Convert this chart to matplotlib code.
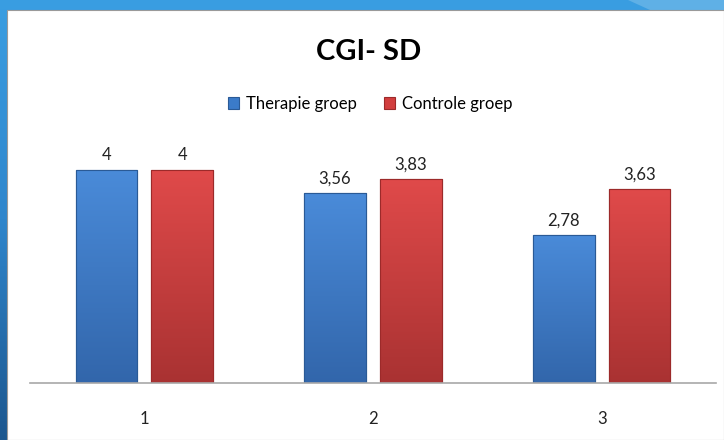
import matplotlib.pyplot as plt
import numpy as np
from matplotlib.patches import Rectangle, Polygon
from matplotlib.colors import LinearSegmentedColormap

categories = ['1', '2', '3']
therapie = [4, 3.56, 2.78]
controle = [4, 3.83, 3.63]
series_names = ['Therapie groep', 'Controle groep']

plt.rcParams['font.family'] = ['Lato', 'DejaVu Sans']

fig = plt.figure(figsize=(7.24, 4.40), dpi=100)

# slide background: blue gradient with a white panel on top
bg = fig.add_axes([0, 0, 1, 1], zorder=-10)
grad = np.linspace(0, 1, 256).reshape(-1, 1)
bg.imshow(grad, aspect='auto', cmap=LinearSegmentedColormap.from_list(
    'slide', ['#3a9ee2', '#2f86cc', '#1c578f']), extent=[0, 1, 0, 1])
bg.set_xlim(0, 1)
bg.set_ylim(0, 1)
bg.axis('off')
bg.add_patch(Polygon([(628 / 724, 1), (1, 1), (1, 430 / 440), (650 / 724, 430 / 440)],
                     closed=True, facecolor='#5fb0e6', edgecolor='none'))
bg.add_patch(Rectangle((7 / 724, 0), 1 - 7 / 724, (440 - 10) / 440,
                       facecolor='white', edgecolor='#9a9a9a', linewidth=0.8))

ax = fig.add_axes([30 / 724, 57 / 440, 686 / 724, 240 / 440])
x = np.arange(len(categories))
w = 0.27
off = 0.166
b1 = ax.bar(x - off, therapie, w, color='#3b7bc9', edgecolor='#2a5a96', linewidth=0.8,
            label=series_names[0])
b2 = ax.bar(x + off, controle, w, color='#d23e3e', edgecolor='#9c2a2a', linewidth=0.8,
            label=series_names[1])

# vertical shading on bars, lighter at the top
shades = [LinearSegmentedColormap.from_list('b', ['#3266ab', '#4a8bd9']),
          LinearSegmentedColormap.from_list('r', ['#a93232', '#e04a4a'])]
for bars, cm in [(b1, shades[0]), (b2, shades[1])]:
    for r in bars:
        x0, h = r.get_x(), r.get_height()
        img = ax.imshow(grad, aspect='auto', cmap=cm, origin='lower',
                        extent=[x0, x0 + r.get_width(), 0, h], zorder=r.get_zorder() + 0.1)
        img.set_clip_path(r)
        ax.bar(x0 + r.get_width() / 2, h, r.get_width(), color='none',
               edgecolor=r.get_edgecolor(), linewidth=0.8, zorder=r.get_zorder() + 0.2)

for bars, vals in [(b1, therapie), (b2, controle)]:
    for r, v in zip(bars, vals):
        ax.text(r.get_x() + r.get_width() / 2, v + 0.12, f'{v:g}'.replace('.', ','),
                ha='center', va='bottom', fontsize=12, color='#222222')

ax.set_xlim(-0.5, 2.5)
ax.set_ylim(0, 4.5)
ax.set_xticks(x)
ax.set_xticklabels(categories, fontsize=12, color='#222222')
ax.tick_params(axis='x', length=0, pad=20)
ax.set_yticks([])
for s in ['top', 'left', 'right']:
    ax.spines[s].set_visible(False)
ax.spines['bottom'].set_color('#a8a8a8')
ax.spines['bottom'].set_linewidth(1.2)
ax.spines['bottom'].set_zorder(5)
ax.patch.set_alpha(0)

fig.text(369 / 724, 1 - 52 / 440, 'CGI- SD', ha='center', va='center',
         fontsize=21, fontweight='bold', color='black')
fig.legend(handles=[b1, b2], loc='center', bbox_to_anchor=(370 / 724, 1 - 104 / 440),
           ncol=2, frameon=False, fontsize=12, handlelength=0.7, handleheight=0.7,
           handletextpad=0.4, columnspacing=1.6)

plt.savefig('out.png', dpi=100)
